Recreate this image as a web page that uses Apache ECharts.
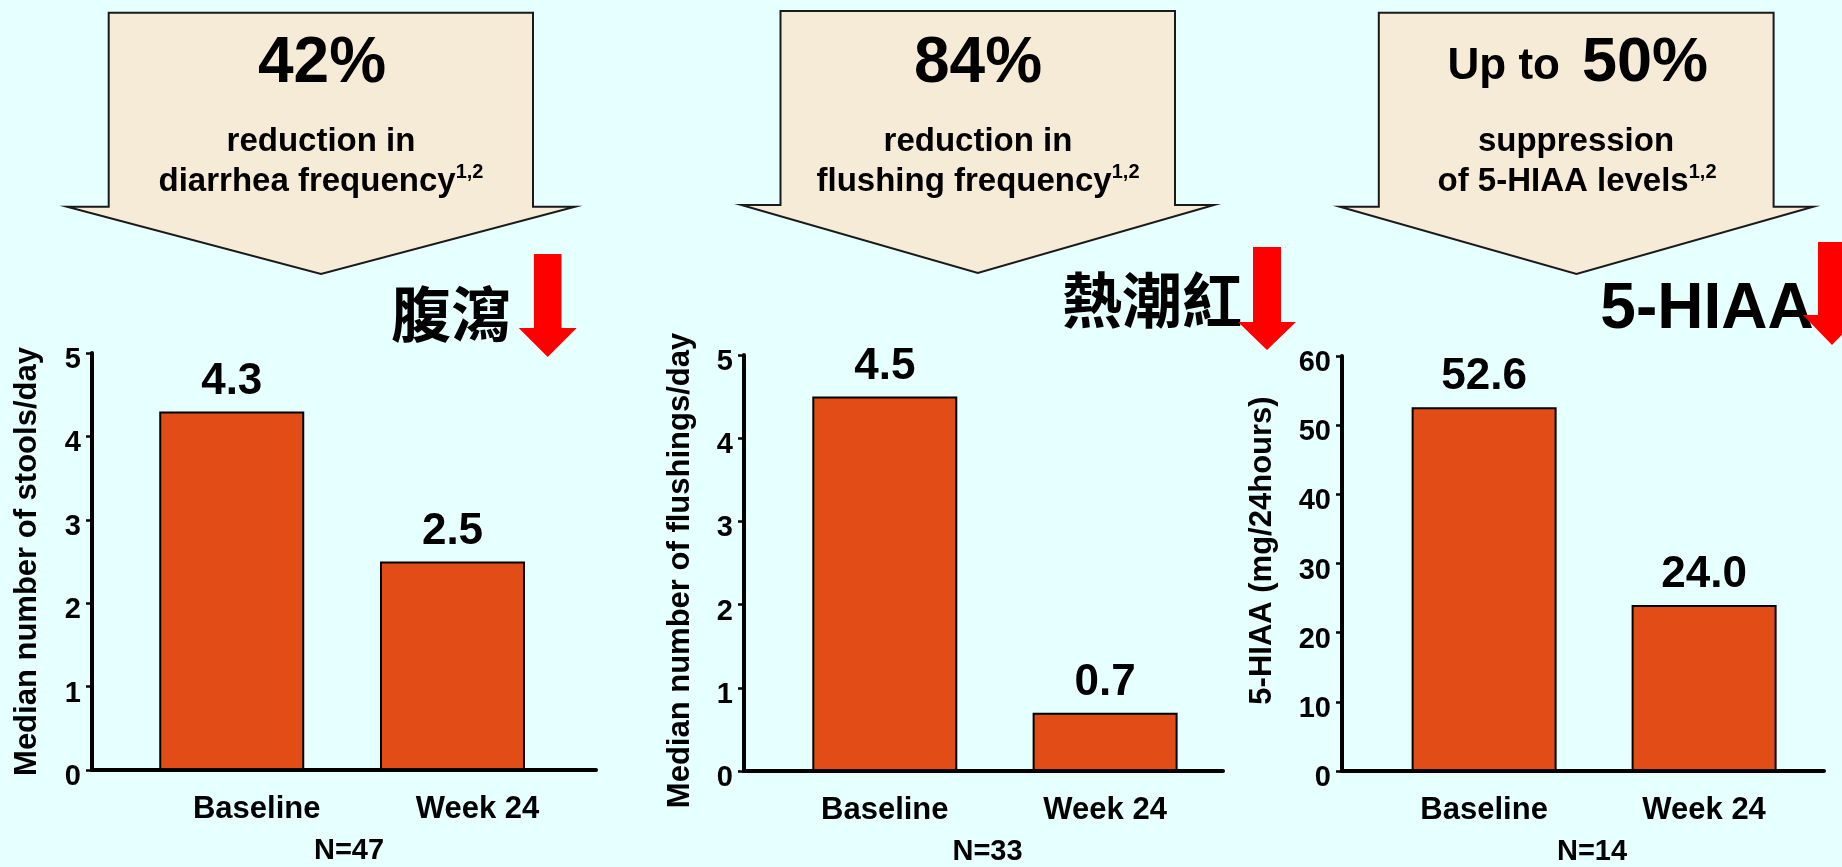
<!DOCTYPE html>
<html>
<head>
<meta charset="utf-8">
<script src="https://cdn.jsdelivr.net/npm/echarts@6/dist/echarts.min.js"></script>
<style>
  html, body { margin: 0; padding: 0; background: #E6FFFF; }
  #chart { width: 1842px; height: 867px; }
</style>
</head>
<body>
<div id="chart"></div>
<script>
// Octreotide symptom panels: medians at baseline and after 24 weeks
const categories = ['Baseline', 'Week 24'];
const stoolsPerDay = [4.3, 2.5];
const flushingsPerDay = [4.5, 0.7];
const hiaaPerDay = [52.6, 24.0];
const sampleSizes = ['N=47', 'N=33', 'N=14'];
const axisTitles = ['Median number of stools/day', 'Median number of flushings/day', '5-HIAA (mg/24hours)'];
const yMax = [5, 5, 60];
const yStep = [1, 1, 10];
const headlines = ['42%', '84%', '50%'];
const symptomTags = ['腹瀉', '熱潮紅', '5-HIAA'];

const FONT = "'Liberation Sans', Arial, Helvetica, sans-serif";
const CJK = "'Noto Sans CJK TC', 'Noto Sans CJK SC', sans-serif";
const BAR = '#E24D17';

// grid geometry of each panel
const panels = [
  { left: 92,   top: 353, width: 504, height: 417, xMin: -0.633, xMax: 1.650, labelShift: 25, nameGap: 49, namePad: [0, 0, 0, 0],  nPad: 10 },
  { left: 744,  top: 355, width: 479, height: 417, xMin: -0.639, xMax: 1.535, labelShift: 0,  nameGap: 48, namePad: [0, 15, 0, 0], nPad: 8 },
  { left: 1342, top: 356, width: 482, height: 418, xMin: -0.646, xMax: 1.545, labelShift: 0,  nameGap: 64, namePad: [0, 0, 0, 26], nPad: 18 }
];
const panelValues = [stoolsPerDay, flushingsPerDay, hiaaPerDay];

const grid = panels.map(p => ({ left: p.left, top: p.top, width: p.width, height: p.height, containLabel: false }));

const xAxis = panels.map((p, i) => ({
  type: 'value', gridIndex: i, min: p.xMin, max: p.xMax,
  axisLine: { show: true, onZero: false, lineStyle: { color: '#000', width: 4 } },
  axisTick: { show: false },
  splitLine: { show: false },
  axisLabel: {
    customValues: [0, 1],
    formatter: v => categories[Math.round(v)],
    color: '#000', fontFamily: FONT, fontWeight: 'bold', fontSize: 31,
    margin: 24, padding: [0, 0, 0, p.labelShift * 2]
  },
  name: sampleSizes[i], nameLocation: 'middle', nameGap: 66,
  nameTextStyle: { color: '#000', fontFamily: FONT, fontWeight: 'bold', fontSize: 29, padding: [0, 0, 0, p.nPad] }
}));

const yAxis = panels.map((p, i) => ({
  type: 'value', gridIndex: i, min: 0, max: yMax[i], interval: yStep[i],
  axisLine: { show: true, onZero: false, lineStyle: { color: '#000', width: 4 } },
  axisTick: { show: true, length: 6, lineStyle: { color: '#000', width: 2.5 } },
  splitLine: { show: false },
  axisLabel: {
    color: '#000', fontFamily: FONT, fontWeight: 'bold', fontSize: 29,
    margin: 11, verticalAlign: 'top', lineHeight: 14
  },
  name: axisTitles[i], nameLocation: 'middle', nameGap: p.nameGap,
  nameTextStyle: { color: '#000', fontFamily: FONT, fontWeight: 'bold', fontSize: 31, padding: p.namePad }
}));

const series = panelValues.map((vals, i) => ({
  type: 'bar', xAxisIndex: i, yAxisIndex: i,
  data: vals.map((v, k) => [k, v]),
  barWidth: 145,
  itemStyle: { color: BAR, borderColor: '#000', borderWidth: 2 },
  label: {
    show: true, position: 'top', distance: 8,
    formatter: prm => prm.value[1].toFixed(1),
    color: '#000', fontFamily: FONT, fontWeight: 'bold', fontSize: 44
  }
}));

// down-pointing callout shape
function callout(boxL, boxR, top, shoulderY, shL, shR, tipX, tipY) {
  return {
    type: 'polygon', z: 1,
    shape: { points: [[boxL, top], [boxR, top], [boxR, shoulderY], [shR, shoulderY], [tipX, tipY], [shL, shoulderY], [boxL, shoulderY]] },
    style: { fill: '#F5EBD7', stroke: '#1a1a1a', lineWidth: 2 }
  };
}
// solid red down arrow
function redArrow(cx, shaftHalf, top, headTop, headHalf, tipY) {
  return {
    type: 'polygon', z: 5,
    shape: { points: [[cx - shaftHalf, top], [cx + shaftHalf, top], [cx + shaftHalf, headTop], [cx + headHalf, headTop], [cx, tipY], [cx - headHalf, headTop], [cx - shaftHalf, headTop]] },
    style: { fill: '#FF0000' }
  };
}
function txt(x, y, text, size, extra) {
  return {
    type: 'text', z: 3, x: x, y: y,
    style: Object.assign({ text: text, fill: '#000', font: 'bold ' + size + 'px ' + FONT, align: 'center', verticalAlign: 'middle' }, extra || {})
  };
}
function supText(x, y, main, sup) {
  return {
    type: 'text', z: 3, x: x, y: y,
    style: {
      text: '{m|' + main + '}{s|' + sup + '}', align: 'center', verticalAlign: 'middle',
      rich: {
        m: { fill: '#000', fontFamily: FONT, fontWeight: 'bold', fontSize: 33, lineHeight: 40 },
        s: { fill: '#000', fontFamily: FONT, fontWeight: 'bold', fontSize: 20, verticalAlign: 'top' }
      }
    }
  };
}

const graphic = [
  callout(108.7, 533, 12.7, 206.7, 67, 575, 321, 274),
  callout(780.5, 1175, 11, 205, 741.4, 1214, 977.8, 273),
  callout(1378.8, 1773.6, 12.7, 206.7, 1339.8, 1813.3, 1576.5, 274),

  txt(322, 64, headlines[0], 64),
  txt(321, 142, 'reduction in', 33),
  supText(321, 182, 'diarrhea frequency', '1,2'),

  txt(978, 64, headlines[1], 64),
  txt(978, 142, 'reduction in', 33),
  supText(978, 182, 'flushing frequency', '1,2'),

  txt(1560, 67, 'Up to', 44, { align: 'right' }),
  txt(1582, 64, headlines[2], 63, { align: 'left' }),
  txt(1576, 142, 'suppression', 33),
  supText(1577, 182, 'of 5-HIAA levels', '1,2'),

  txt(451, 314, symptomTags[0], 60, { font: 'bold 60px ' + CJK }),
  txt(1152, 300, symptomTags[1], 60, { font: 'bold 60px ' + CJK }),
  txt(1707, 310, symptomTags[2], 64),

  redArrow(547.7, 13.8, 254, 328, 29, 357),
  redArrow(1267, 14, 247, 322, 29, 350),
  redArrow(1832, 14, 242, 315, 29, 345)
];

const chart = echarts.init(document.getElementById('chart'), null, { renderer: 'canvas' });
chart.setOption({
  backgroundColor: '#E6FFFF',
  animation: false,
  grid: grid,
  xAxis: xAxis,
  yAxis: yAxis,
  series: series,
  graphic: graphic
});
</script>
</body>
</html>
